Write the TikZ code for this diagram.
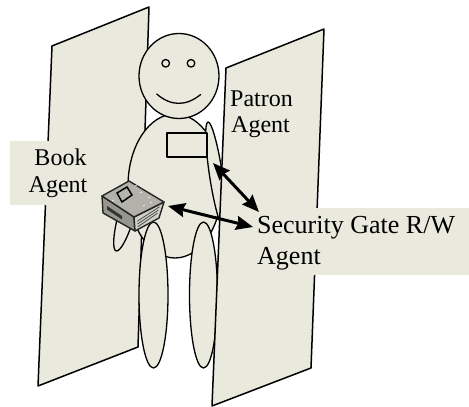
\documentclass[tikz,border=0pt]{standalone}
\usepackage{fontspec}
\setmainfont{Liberation Serif}
\usetikzlibrary{arrows.meta,calc}
\definecolor{paper}{RGB}{233,233,221}
\definecolor{bookTop}{RGB}{178,178,170}
\definecolor{bookSpine}{RGB}{150,150,142}
\definecolor{bookPages}{RGB}{208,208,200}
\begin{document}
\begin{tikzpicture}[x=1pt,y=1pt,
  outline/.style={draw=black, line width=1.3pt, fill=paper, line join=round},
  panel/.style={outline, line width=1.5pt},
  caption/.style={inner sep=0pt, font=\fontsize{24}{28}\selectfont},
  bigcaption/.style={inner sep=0pt, font=\fontsize{26}{31}\selectfont},
  link/.style={line width=3pt,
    {Stealth[length=17pt,width=14pt,inset=2pt]}-{Stealth[length=17pt,width=14pt,inset=2pt]}},
  bookline/.style={draw=black!85, line width=1.4pt, line join=round}
]
\useasboundingbox (0,0) rectangle (469,407);

% left gate panel
\draw[panel] (52,361) -- (149,400) -- (138,60) -- (38,21) -- cycle;

% label of the book agent
\fill[paper] (10,202) rectangle (108,266);
\node[caption, anchor=base] (bookWord) at (60.5,241.3) {Book};
\node[caption, anchor=base] (bookAgent) at (58,214.3) {Agent};

% the patron: left arm behind the body
\begin{scope}[shift={(127,194)}, rotate=-16]
  \draw[outline] (0,0) ellipse [x radius=8, y radius=39.5];
\end{scope}
\draw[outline] (175,221) ellipse [x radius=47, y radius=72];
\draw[outline, rotate around={8.6:(216,232)}] (216,232) ellipse [x radius=6.5, y radius=53.6];
\draw[outline] (153.5,112) ellipse [x radius=14.5, y radius=73];
\draw[outline] (203.5,112) ellipse [x radius=14, y radius=73];
\draw[outline] (179,331) ellipse [x radius=40, y radius=42.5];
\draw[outline] (165.7,343.7) circle [radius=3.8];
\draw[outline] (191,343.7) circle [radius=3.8];
\draw[line width=1.3pt, line cap=round] (156.7,313) .. controls (171,300.6) and (186,300.6) .. (200.7,312.5);
\node[outline, minimum width=40pt, minimum height=24pt, inner sep=0pt] (badge) at (187,262) {};

% the book held by the patron
\coordinate (bA) at (102,211);
\coordinate (bB) at (129,226);
\coordinate (bC) at (164,205);
\coordinate (bD) at (134,190);
\coordinate (bAp) at (103,194);
\coordinate (bDp) at (135,176);
\coordinate (bCp) at (159,189);
\filldraw[bookline, fill=bookSpine] (bA) -- (bD) -- (bDp) -- (bAp) -- cycle;
\filldraw[bookline, fill=bookPages] (bD) -- (bC) -- (bCp) -- (bDp) -- cycle;
\filldraw[bookline, fill=bookTop] (bA) -- (bB) -- (bC) -- (bD) -- cycle;
\foreach \t in {0.3,0.5,0.7}
  \draw[black!70, line width=0.8pt] ($(bD)!\t!(bDp)+(3,0)$) -- ($(bC)!\t!(bCp)+(-3,0)$);
\filldraw[draw=black, line width=1.5pt, fill=bookSpine!70] (117,214) -- (127,220) -- (132,212) -- (122,205) -- cycle;
\fill[black!80] (107,201) -- (122,191) -- (122,187.5) -- (107,197.5) -- cycle;
\foreach \p in {(140,214),(148,209),(112,206),(150,204),(135,221),(143,201)}
  \draw[white, line width=0.6pt] \p -- ++(2,1);
\coordinate (bookEnd) at (168,201);

% right gate panel
\draw[panel] (226,339) -- (324,378) -- (311,39) -- (212,1) -- cycle;

% label of the patron agent
\node[caption, anchor=base west] (patronWord) at (230,300.5) {Patron};
\node[caption, anchor=base west] (patronAgent) at (231,274) {Agent};

% label of the security gate reader/writer agent
\fill[paper] (250,132) rectangle (469,199);
\node[bigcaption, anchor=base west] (gateWord) at (257,173) {Security Gate R/W};
\node[bigcaption, anchor=base west] (gateAgent) at (257,142) {Agent};

% links between the agents
\coordinate (tagEnd) at (213,244);
\coordinate (gateA) at (259,195);
\coordinate (gateB) at (253,180);
\draw[link] (tagEnd) -- (gateA);
\draw[link] (bookEnd) -- (gateB);
\end{tikzpicture}
\end{document}
